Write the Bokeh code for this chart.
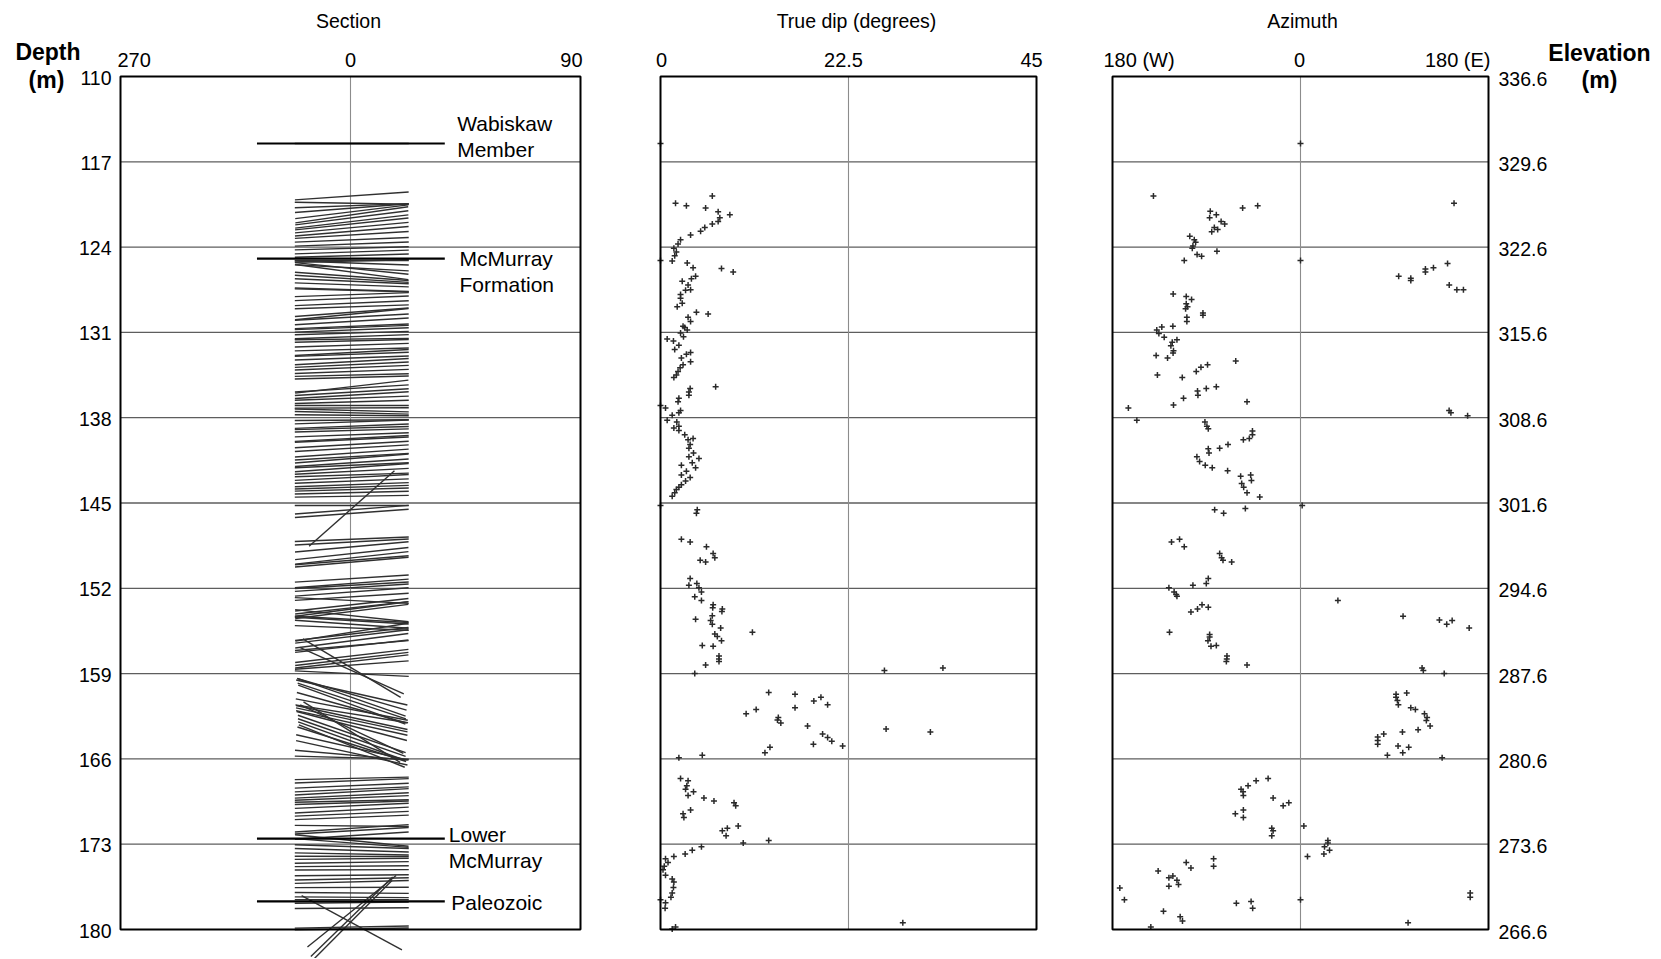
import numpy as np
from bokeh.plotting import figure
from bokeh.models import Range1d, ColumnDataSource
from bokeh.core.properties import value
from bokeh.embed import file_html
from bokeh.resources import INLINE

FONT = "Liberation Sans"

# ---------------- data ----------------
depth_ticks = [110, 117, 124, 131, 138, 145, 152, 159, 166, 173, 180]
elev_labels = ["336.6", "329.6", "322.6", "315.6", "308.6", "301.6",
               "294.6", "287.6", "280.6", "273.6", "266.6"]

sec_ticks = [-90, 0, 90]
sec_labels = ["270", "0", "90"]
dip_ticks = [0, 22.5, 45]
dip_labels = ["0", "22.5", "45"]
az_ticks = [-180, 0, 180]
az_labels = ["180 (W)", "0", "180 (E)"]

panel_titles = ["Section", "True dip (degrees)", "Azimuth"]

formation_names = ["Wabiskaw\nMember", "McMurray\nFormation", "Lower\nMcMurray", "Paleozoic"]
formation_depth = [115.5, 124.95, 172.55, 177.7]

dip_depth = [
    115.5, 119.8, 120.4, 120.6, 120.8, 121.1, 121.35, 121.6, 121.9, 122.1, 122.4, 122.7,
    123.0, 123.4, 123.75, 124.1, 124.4, 124.7, 125.1, 125.15, 125.3, 125.7, 125.75, 126.05,
    126.4, 126.6, 126.8, 127.1, 127.5, 127.55, 127.9, 128.2, 128.6, 128.9, 129.35, 129.5,
    129.75, 130.1, 130.5, 130.6, 130.8, 131.05, 131.35, 131.55, 131.7, 132.05, 132.4, 132.65,
    132.8, 133.1, 133.4, 133.65, 133.9, 134.2, 134.5, 134.7, 135.45, 135.6, 135.9, 136.15,
    136.4, 136.7, 137.0, 137.2, 137.4, 137.6, 137.8, 138.2, 138.35, 138.7, 138.85, 139.05,
    139.4, 139.7, 139.8, 140.2, 140.5, 140.9, 141.2, 141.35, 141.7, 141.9, 142.1, 142.4,
    142.7, 142.9, 143.2, 143.5, 143.7, 143.9, 144.15, 144.45, 145.2, 145.45, 145.55, 145.85,
    147.97, 148.2, 148.6, 149.15, 149.5, 149.7, 149.85, 151.2, 151.6, 151.75, 151.95, 152.3,
    152.7, 153.0, 153.35, 153.6, 153.7, 153.9, 154.25, 154.55, 154.65, 154.95, 155.25, 155.6,
    155.75, 155.95, 156.3, 156.7, 156.75, 157.55, 157.8, 158.0, 158.3, 158.55, 158.75, 159.0,
    160.55, 160.7, 160.95, 161.25, 161.55, 161.8, 161.95, 162.3, 162.6, 162.8, 163.05, 163.3,
    163.55, 163.8, 163.95, 164.25, 164.55, 164.8, 164.95, 165.05, 165.5, 165.7, 165.9, 167.6,
    167.8, 168.2, 168.5, 168.7, 169.0, 169.2, 169.45, 169.6, 169.85, 170.2, 170.5, 170.8,
    171.5, 171.7, 171.9, 172.3, 172.7, 172.9, 173.2, 173.5, 173.8, 174.0, 174.2, 174.5,
    174.8, 175.1, 175.55, 175.85, 176.1, 176.55, 177.0, 177.35, 177.55, 177.8, 178.25, 178.5,
    178.95, 179.3, 179.45, 179.8, 179.95]
dip_deg = [
    0.0, 6.2, 1.8, 3.1, 5.4, 6.9, 8.3, 7.1, 6.9, 6.2, 5.3, 4.8,
    3.6, 2.4, 2.1, 1.6, 1.9, 1.7, 0.0, 1.4, 3.2, 3.9, 7.3, 8.7,
    4.2, 3.7, 2.6, 3.3, 3.6, 3.0, 2.4, 2.4, 2.6, 2.0, 4.3, 5.7,
    3.3, 3.6, 2.7, 2.9, 3.2, 2.4, 2.75, 0.8, 1.55, 2.2, 1.7, 3.6,
    3.1, 2.5, 3.6, 2.7, 2.35, 2.1, 1.9, 1.6, 6.6, 3.55, 3.4, 3.4,
    2.2, 2.1, 0.0, 0.6, 2.4, 2.2, 1.4, 0.8, 1.95, 2.2, 1.6, 2.2,
    2.9, 3.9, 3.3, 3.55, 3.4, 3.95, 3.4, 4.6, 3.8, 2.5, 4.2, 3.1,
    2.5, 3.55, 3.0, 2.5, 2.2, 1.9, 1.7, 1.4, 0.0, 48.0, 4.4, 4.3,
    2.5, 3.55, 5.5, 6.3, 6.5, 4.75, 5.4, 3.55, 4.35, 3.4, 4.6, 4.9,
    4.1, 4.9, 6.3, 6.25, 7.4, 7.35, 6.2, 4.2, 6.0, 6.2, 7.2, 11.0,
    6.5, 6.8, 7.3, 5.0, 6.3, 7.0, 7.0, 7.0, 5.4, 33.8, 26.8, 4.1,
    12.95, 16.1, 19.2, 18.35, 20.0, 16.1, 11.45, 10.25, 14.1, 14.0, 14.4, 17.6,
    27.0, 32.3, 19.4, 20.0, 20.5, 18.3, 21.8, 13.1, 12.5, 5.0, 2.2, 2.4,
    3.3, 3.15, 3.0, 3.95, 3.3, 5.2, 6.4, 8.8, 9.0, 3.6, 2.7, 2.8,
    9.3, 8.0, 7.4, 7.85, 12.95, 9.9, 4.9, 3.8, 2.95, 1.6, 0.6, 0.9,
    0.45, 0.3, 0.6, 1.4, 1.6, 1.55, 1.4, 1.25, 0.0, 0.6, 0.55, 47.0,
    47.0, 47.5, 29.0, 1.8, 1.4]

azi_depth = [
    115.5, 119.8, 120.4, 120.6, 120.8, 121.05, 121.35, 121.6, 121.9, 122.1, 122.4, 122.55,
    122.75, 123.1, 123.4, 123.6, 123.9, 124.1, 124.35, 124.6, 124.75, 125.1, 125.1, 125.35,
    125.7, 125.8, 126.05, 126.4, 126.55, 126.75, 127.1, 127.5, 127.5, 127.85, 128.05, 128.3,
    128.65, 128.9, 129.05, 129.4, 129.6, 129.75, 130.1, 130.5, 130.55, 130.8, 131.1, 131.4,
    131.6, 131.8, 132.1, 132.5, 132.7, 132.9, 133.1, 133.35, 133.65, 133.85, 134.2, 134.5,
    134.7, 135.45, 135.6, 135.8, 136.15, 136.4, 136.7, 136.95, 137.2, 137.4, 137.6, 137.85,
    138.2, 138.35, 138.7, 138.9, 139.1, 139.4, 139.7, 139.8, 140.2, 140.5, 140.55, 140.9,
    141.2, 141.6, 141.9, 142.1, 142.35, 142.7, 142.8, 143.15, 143.4, 143.7, 144.15, 144.5,
    145.2, 145.45, 145.55, 145.85, 147.97, 148.2, 148.6, 149.15, 149.5, 149.7, 149.85, 151.2,
    151.6, 151.75, 151.95, 152.3, 152.5, 152.65, 153.0, 153.35, 153.55, 153.7, 153.95, 154.3,
    154.6, 154.65, 154.95, 155.25, 155.6, 155.8, 156.0, 156.3, 156.7, 156.75, 157.55, 157.8,
    158.0, 158.3, 158.55, 158.75, 159.0, 160.6, 160.7, 160.95, 161.2, 161.55, 161.8, 161.95,
    162.3, 162.6, 162.85, 163.3, 163.6, 163.8, 163.95, 164.2, 164.5, 164.8, 164.95, 165.05,
    165.5, 165.7, 165.9, 167.6, 167.8, 168.2, 168.5, 168.7, 169.0, 169.2, 169.6, 169.85,
    170.2, 170.5, 170.8, 171.5, 171.7, 171.9, 172.3, 172.7, 172.9, 173.2, 173.5, 173.8,
    174.0, 174.2, 174.5, 174.8, 174.95, 175.2, 175.6, 175.75, 175.95, 176.3, 176.45, 176.6,
    177.0, 177.35, 177.55, 177.55, 177.7, 177.85, 178.25, 178.5, 178.95, 179.3, 179.45, 179.8]
azi_deg = [
    0, -140.8, 147, -41, -55.4, -86.4, -80.6, -87, -76, -72.6, -82.5, -79.3,
    -85, -106, -101.7, -100.4, -103, -103.6, -80, -99, -94.7, -111.3, 0, 140.8,
    127.3, 119.6, 119.6, 94, 105.6, 105.6, 142.4, 149.7, 156, -121.9, -109.4, -104.3,
    -109.4, -108.2, -110, -93.4, -93.4, -108.8, -108.8, -122.2, -132.8, -137.6, -135.6, -130.5,
    -118.3, -122.8, -124.1, -121.6, -122, -138.2, -127.3, -62, -89, -95.3, -99.8, -137,
    -113.2, -80.6, -90.2, -98.6, -98.2, -112, -51.2, -121.6, -164.8, 142.3, 144, 160,
    -156.7, -91.5, -89.6, -88.3, -46, -46, -49, -54.7, -69.4, -77.4, -88.3, -87.6,
    -99.2, -96.6, -91.2, -84.5, -69.8, -47.7, -57.3, -47, -56.3, -54.4, -51.2, -39,
    1.6, -52.8, -82.2, -73.6, -115.8, -123.5, -111.3, -77.4, -75.5, -74.2, -65.9, -88.3,
    -90.2, -103, -126, -121, -119, -118.3, 35.8, -94.3, -88.3, -98.6, -104.9, 98.2,
    133, 145.2, 140, 161.5, -125.4, -87, -87, -88.6, -80.6, -85.7, -70.4, -70.6,
    -71, -51.2, 116.4, 117.6, 137.6, 101.7, 91.5, 91.5, 92.8, 93.7, 105.6, 110,
    118.7, 121.2, 120.5, 124.1, 112.6, 97.6, 79.7, 73.9, 73.9, 73.9, 93.4, 103.6,
    97.9, 83.2, 135.6, -31, -42.5, -50.2, -56.9, -55, -54.7, -26.2, -11.2, -16.6,
    -54.7, -62.4, -54.7, 3.2, -27.5, -26.2, -27.5, 26.2, 26.2, 23, 27.8, 22.4,
    6.7, -83.2, -109.4, -83.2, -104.9, -136.3, -122.2, -126, -118.3, -116.8, -126, -173,
    162.5, 162.5, -168.6, 0, -47.3, -61.4, -45.8, -131.2, -115.2, -113, 103, -143.3]

# ---------------- layout (pixel positions of the panel boxes) ----------------
W, H = 1660, 958
BOX_TOP, BOX_BOT = 76.0, 929.0
SEC_PX = (120.0, 580.0)
DIP_PX = (660.0, 1036.0)
AZ_PX = (1112.0, 1488.0)


def span(px_a, px_b, v_a, v_b, total):
    s = (px_b - px_a) / (v_b - v_a)
    return v_a - px_a / s, v_a + (total - px_a) / s, s


ppm = (BOX_BOT - BOX_TOP) / (depth_ticks[-1] - depth_ticks[0])
y_top = depth_ticks[0] - BOX_TOP / ppm
y_bot = depth_ticks[0] + (H - BOX_TOP) / ppm
sx0, sx1, ppx_sec = span(SEC_PX[0], SEC_PX[1], sec_ticks[0], sec_ticks[-1], W)
dx0, dx1, _ = span(DIP_PX[0], DIP_PX[1], dip_ticks[0], dip_ticks[-1], W)
ax0, ax1, _ = span(AZ_PX[0], AZ_PX[1], az_ticks[0], az_ticks[-1], W)

TAD_LEN = 114.0      # tadpole segment length (px)
TAD_X0 = 0.5         # tadpole centre (section units)
FORM_X = (-36.6, 36.9)

GRID_H = "#5e5e5e"
GRID_V = "#8c8c8c"
MARK = "#2a2a2a"
TXT = dict(text_font=value(FONT), text_color="black")

p = figure(width=W, height=H, output_backend="svg", toolbar_location=None,
           x_range=Range1d(sx0, sx1), y_range=Range1d(y_bot, y_top),
           x_axis_location=None, y_axis_location=None, min_border=0, title=None)
p.extra_x_ranges = {"dip": Range1d(dx0, dx1), "az": Range1d(ax0, ax1)}
p.grid.visible = False
p.outline_line_color = None
p.background_fill_color = "white"
p.border_fill_color = "white"

inner = depth_ticks[1:-1]
panels = [("default", sec_ticks, sec_labels, [("left", -3), ("center", 0), ("right", 2)], 0),
          ("dip", dip_ticks, dip_labels, [("center", 1), ("center", -5), ("center", -5)], 1),
          ("az", az_ticks, az_labels, [("left", -9), ("center", -1), ("right", 2)], 2)]
title_off = [-2, 8, 2]

for rname, ticks, labels, aligns, k in panels:
    n = len(inner)
    p.segment(x0=[ticks[0]] * n, x1=[ticks[-1]] * n, y0=inner, y1=inner,
              line_color=GRID_H, line_width=1.3, x_range_name=rname)
    p.segment(x0=[ticks[1]], x1=[ticks[1]], y0=[depth_ticks[0]], y1=[depth_ticks[-1]],
              line_color=GRID_V, line_width=1.1, x_range_name=rname)
    for xv, t, (al, xo) in zip(ticks, labels, aligns):
        p.text(x=[xv], y=[depth_ticks[0]], text=[t], x_offset=xo, y_offset=-17,
               text_align=al, text_baseline="middle", text_font_size="20px",
               x_range_name=rname, **TXT)
    p.text(x=[ticks[1]], y=[depth_ticks[0]], text=[panel_titles[k]], x_offset=title_off[k],
           y_offset=-55.3, text_align="center", text_baseline="middle",
           text_font_size="19.5px", x_range_name=rname, **TXT)

# ---------------- Section tadpoles ----------------
d_arr = np.array(dip_depth)
dip_arr = np.array(dip_deg)
az_d = np.array(azi_depth)
az_v = np.array(azi_deg)
paired_az = np.array([az_v[np.argmin(np.abs(az_d - d))] for d in d_arr])
app = np.arctan(np.tan(np.radians(dip_arr)) * np.sin(np.radians(paired_az)))
hx = (TAD_LEN / 2) * np.cos(app) / ppx_sec
hy = (TAD_LEN / 2) * np.sin(app) / ppm
tad = ColumnDataSource(dict(x0=TAD_X0 - hx, x1=TAD_X0 + hx, y0=d_arr - hy, y1=d_arr + hy))
p.segment(x0="x0", x1="x1", y0="y0", y1="y1", source=tad,
          line_color="#303030", line_width=1.4)

nf = len(formation_depth)
p.segment(x0=[FORM_X[0]] * nf, x1=[FORM_X[1]] * nf, y0=formation_depth, y1=formation_depth,
          line_color="black", line_width=2.2)
form_src = ColumnDataSource(dict(x=[FORM_X[1]] * nf, y=formation_depth, t=formation_names,
                                 xo=[12.4, 14.7, 4.0, 6.4], yo=[-6.8, 13.2, 8.6, 0.7]))
p.text(x="x", y="y", text="t", source=form_src, x_offset="xo", y_offset="yo",
       text_font_size="21px", text_baseline="middle", text_align="left",
       text_line_height=1.13, **TXT)

# ---------------- points ----------------
keep = (dip_arr >= dip_ticks[0]) & (dip_arr <= dip_ticks[-1])
p.scatter(dip_arr[keep], d_arr[keep], marker="cross", size=6, line_width=1.5, color=MARK,
          x_range_name="dip")
p.scatter(azi_deg, azi_depth, marker="cross", size=6, line_width=1.5, color=MARK,
          x_range_name="az")

# ---------------- frames ----------------
for rname, ticks in [("default", sec_ticks), ("dip", dip_ticks), ("az", az_ticks)]:
    p.quad(left=[ticks[0]], right=[ticks[-1]], top=[depth_ticks[0]], bottom=[depth_ticks[-1]],
           fill_color=None, line_color="black", line_width=2, x_range_name=rname)

# ---------------- depth / elevation scales ----------------
p.text(x=[sec_ticks[0]] * len(depth_ticks), y=depth_ticks, text=[str(d) for d in depth_ticks],
       x_offset=-9, y_offset=1, text_align="right", text_baseline="middle",
       text_font_size="19.5px", **TXT)
p.text(x=[az_ticks[-1]] * len(depth_ticks), y=depth_ticks, text=elev_labels,
       x_offset=10, y_offset=2, text_align="left", text_baseline="middle",
       text_font_size="19.5px", x_range_name="az", **TXT)

p.text(x=[sec_ticks[0]], y=[depth_ticks[0]], text=["Depth"], x_offset=-72.5, y_offset=-25,
       text_align="center", text_baseline="middle", text_font_size="23px",
       text_font_style="bold", **TXT)
p.text(x=[sec_ticks[0]], y=[depth_ticks[0]], text=["(m)"], x_offset=-74, y_offset=3,
       text_align="center", text_baseline="middle", text_font_size="23px",
       text_font_style="bold", **TXT)
p.text(x=[az_ticks[-1]], y=[depth_ticks[0]], text=["Elevation"], x_offset=111, y_offset=-24,
       text_align="center", text_baseline="middle", text_font_size="23px",
       text_font_style="bold", x_range_name="az", **TXT)
p.text(x=[az_ticks[-1]], y=[depth_ticks[0]], text=["(m)"], x_offset=111, y_offset=3,
       text_align="center", text_baseline="middle", text_font_size="23px",
       text_font_style="bold", x_range_name="az", **TXT)

open("out.html", "w").write(file_html(p, INLINE))
